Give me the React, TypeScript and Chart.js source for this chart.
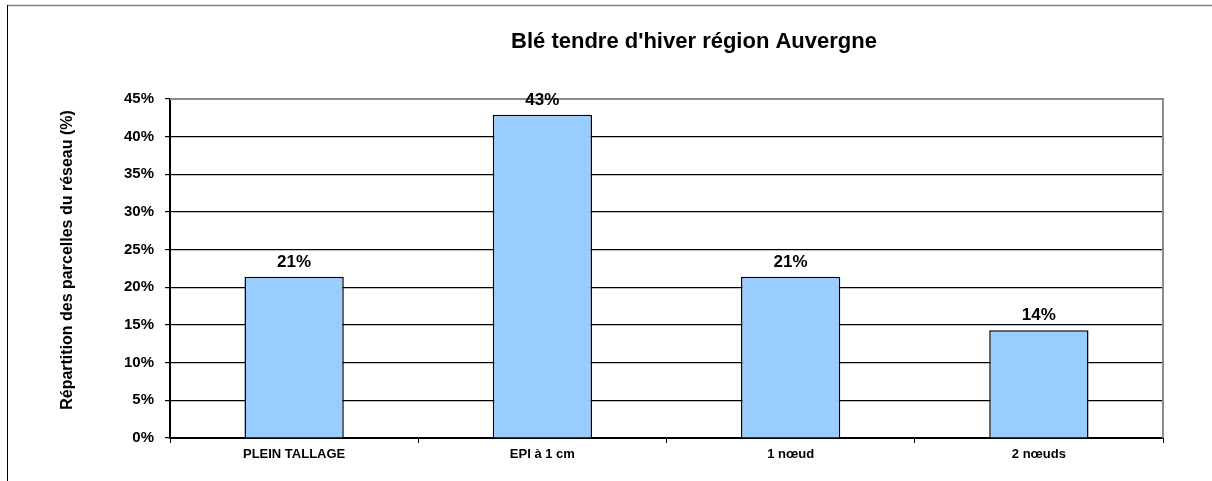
import React, { useEffect, useRef } from "react";
import { Chart, registerables } from "chart.js";

Chart.register(...registerables);

const TITLE = "Blé tendre d'hiver région Auvergne";
const Y_TITLE = "Répartition des parcelles du réseau (%)";
const categories = ["PLEIN TALLAGE", "EPI à 1 cm", "1 nœud", "2 nœuds"];
const values = [21.4, 42.9, 21.4, 14.3];
const yTicks = [0, 5, 10, 15, 20, 25, 30, 35, 40, 45];

const FONT = "'Liberation Sans', Arial, sans-serif";

const decorPlugin = {
  id: "decor",
  beforeDraw(chart: any) {
    const ctx = chart.ctx;
    ctx.save();
    ctx.fillStyle = "#ffffff";
    ctx.fillRect(0, 0, chart.width, chart.height);
    ctx.restore();
  },
  afterDraw(chart: any) {
    const ctx = chart.ctx;
    const area = chart.chartArea;
    ctx.save();
    // outer frame
    ctx.strokeStyle = "#808080";
    ctx.lineWidth = 1.5;
    ctx.beginPath();
    ctx.moveTo(7, 5.5);
    ctx.lineTo(chart.width, 5.5);
    ctx.stroke();
    ctx.strokeStyle = "#000000";
    ctx.lineWidth = 1;
    ctx.beginPath();
    ctx.moveTo(7.5, 5);
    ctx.lineTo(7.5, chart.height);
    ctx.stroke();
    // plot top/right border (grey)
    ctx.strokeStyle = "#8c8c8c";
    ctx.lineWidth = 2;
    ctx.beginPath();
    ctx.moveTo(area.left, area.top);
    ctx.lineTo(area.right, area.top);
    ctx.lineTo(area.right, area.bottom);
    ctx.stroke();
    // title
    ctx.fillStyle = "#000000";
    ctx.font = `bold 22px ${FONT}`;
    ctx.textAlign = "center";
    ctx.textBaseline = "alphabetic";
    ctx.fillText(TITLE, 694, 48);
    // y title
    ctx.save();
    ctx.translate(68, 260);
    ctx.rotate(-Math.PI / 2);
    ctx.font = `bold 16px ${FONT}`;
    ctx.textBaseline = "middle";
    ctx.fillText(Y_TITLE, 0, 0);
    ctx.restore();
    // data labels
    const meta = chart.getDatasetMeta(0);
    ctx.font = `bold 17px ${FONT}`;
    ctx.textBaseline = "alphabetic";
    meta.data.forEach((bar: any, i: number) => {
      ctx.fillText(Math.round(values[i]) + "%", bar.x, bar.y - 10);
    });
    ctx.restore();
  },
};

export default function App() {
  const ref = useRef<HTMLCanvasElement | null>(null);
  useEffect(() => {
    if (!ref.current) return;
    const chart = new Chart(ref.current, {
      type: "bar",
      data: {
        labels: categories,
        datasets: [
          {
            data: values,
            backgroundColor: "#99CCFF",
            borderColor: "#000000",
            borderWidth: 1.5,
            barPercentage: 0.4,
            categoryPercentage: 1,
          },
        ],
      },
      options: {
        animation: false,
        responsive: false,
        maintainAspectRatio: false,
        layout: { padding: { top: 99, right: 49, left: 0, bottom: 0 } },
        plugins: {
          legend: { display: false },
          title: { display: false },
          tooltip: { enabled: false },
        },
        scales: {
          x: {
            offset: true,
            afterFit: (s: any) => {
              s.height = 43;
            },
            grid: {
              offset: true,
              drawOnChartArea: false,
              drawTicks: true,
              tickLength: 5,
              color: "#000000",
            },
            border: { color: "#000000", width: 2 },
            ticks: {
              color: "#000000",
              font: { family: FONT, size: 13, weight: "bold" },
              padding: 4,
              maxRotation: 0,
            },
          },
          y: {
            min: 0,
            max: 45,
            afterFit: (s: any) => {
              s.width = 170;
            },
            afterBuildTicks: (s: any) => {
              s.ticks = yTicks.map((v) => ({ value: v }));
            },
            grid: {
              color: "#000000",
              lineWidth: 1.2,
              tickLength: 5,
              drawTicks: true,
            },
            border: { color: "#000000", width: 2 },
            ticks: {
              color: "#000000",
              font: { family: FONT, size: 15, weight: "bold" },
              padding: 11,
              callback: (v: any) => v + "%",
            },
          },
        },
      },
      plugins: [decorPlugin],
    });
    return () => chart.destroy();
  }, []);
  return (
    <div style={{ position: "absolute", left: 0, top: 0, width: 1212, height: 481, background: "#fff" }}>
      <canvas ref={ref} width={1212} height={481} style={{ display: "block" }} />
    </div>
  );
}
